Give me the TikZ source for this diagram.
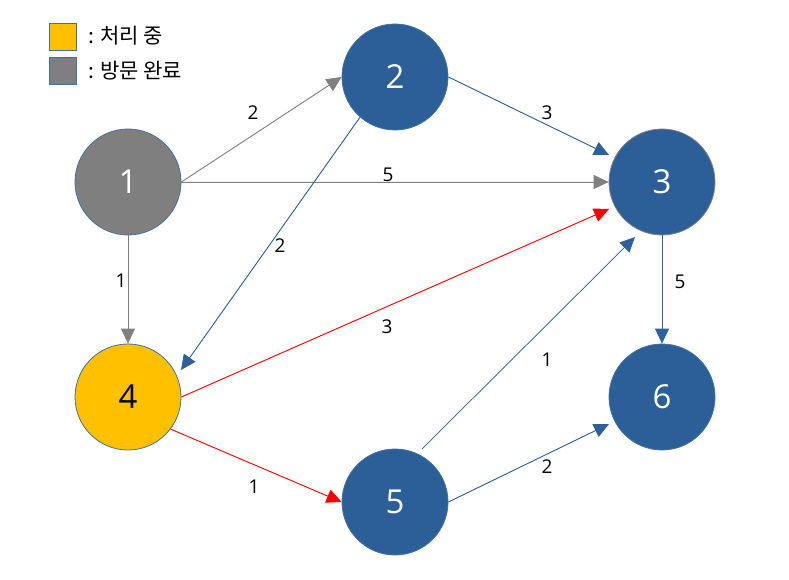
\documentclass[tikz,border=0pt]{standalone}
\usepackage{fontspec}
\setmainfont{Open Sans}
\newfontfamily\krfont{Noto Sans CJK KR}
\usetikzlibrary{arrows.meta,calc}
\definecolor{nblue}{RGB}{44,95,152}
\definecolor{nedge}{RGB}{65,113,156}
\definecolor{nyellow}{RGB}{255,192,0}
\definecolor{ngray}{RGB}{127,127,127}
\definecolor{lblue}{RGB}{46,96,153}
\definecolor{lgray}{RGB}{128,128,128}
\tikzset{
  vtx/.style={circle,minimum size=106pt,inner sep=0pt,draw=nedge,line width=0.8pt,
    font=\fontsize{33}{36}\selectfont,text=white},
  bluev/.style={vtx,fill=nblue},
  grayv/.style={vtx,fill=ngray},
  yellowv/.style={vtx,fill=nyellow,text=black},
  wlabel/.style={font=\fontsize{19}{22}\selectfont,text=black,inner sep=0pt},
  con/.style={line width=0.9pt,-{Triangle[length=15pt,width=14pt]}},
  gcon/.style={con,draw=lgray,fill=lgray},
  bcon/.style={con,draw=lblue,fill=lblue},
  rcon/.style={con,draw=red,fill=red},
  legbox/.style={draw=nedge,line width=0.8pt,minimum size=27pt,inner sep=0pt},
  legtext/.style={font=\krfont\fontsize{21}{24}\selectfont,anchor=west,inner sep=0pt}
}
\begin{document}
\begin{tikzpicture}[x=1pt,y=-1pt]
\useasboundingbox (0,0) rectangle (789,580);
% legend
\node[legbox,fill=nyellow] (ly) at (62.5,36.5) {};
\node[legbox,fill=ngray] (lg) at (62.5,71) {};
\node[legtext] (lyt) at (88,36) {: 처리 중};
\node[legtext] (lgt) at (88,71) {: 방문 완료};
% vertices
\node[grayv] (n1) at (128,182) {1};
\node[bluev] (n2) at (395,77) {2};
\node[bluev,draw=gray] (n3) at (662,182) {3};
\node[yellowv] (n4) at (128,397) {4};
\node[bluev] (n5) at (395,502) {5};
\node[bluev] (n6) at (662,397) {6};
% connectors
\draw[gcon] (n1.east) -- (n2.west);
\draw[gcon] (n1.east) -- (n3.west);
\draw[gcon] (n1.south) -- (n4.north);
\draw[bcon] (n2.east) -- ($(n3)+(-53,-27)$);
\draw[bcon] (n2.229) -- ($(n4)+(53,-27)$);
\draw[rcon] (n4.east) -- ($(n3)+(-53,27)$);
\draw[rcon] (n4.-37) -- (n5.west);
\draw[bcon,line width=0.7pt] ($(n5)+(27,-53)$) -- ($(n3)+(-27,55)$);
\draw[bcon] (n5.east) -- ($(n6)+(-53,27)$);
\draw[bcon] (n3.south) -- (n6.north);
% labels
\node[wlabel] (l12) at (253,113) {2};
\node[wlabel] (l13) at (388,175) {5};
\node[wlabel] (l14) at (121,281) {1};
\node[wlabel] (l23) at (547,113) {3};
\node[wlabel] (l24) at (280,246) {2};
\node[wlabel] (l43) at (387,327) {3};
\node[wlabel] (l45) at (254,487) {1};
\node[wlabel] (l53) at (547,360) {1};
\node[wlabel] (l56) at (547,467) {2};
\node[wlabel] (l36) at (680,282) {5};
\end{tikzpicture}
\end{document}
